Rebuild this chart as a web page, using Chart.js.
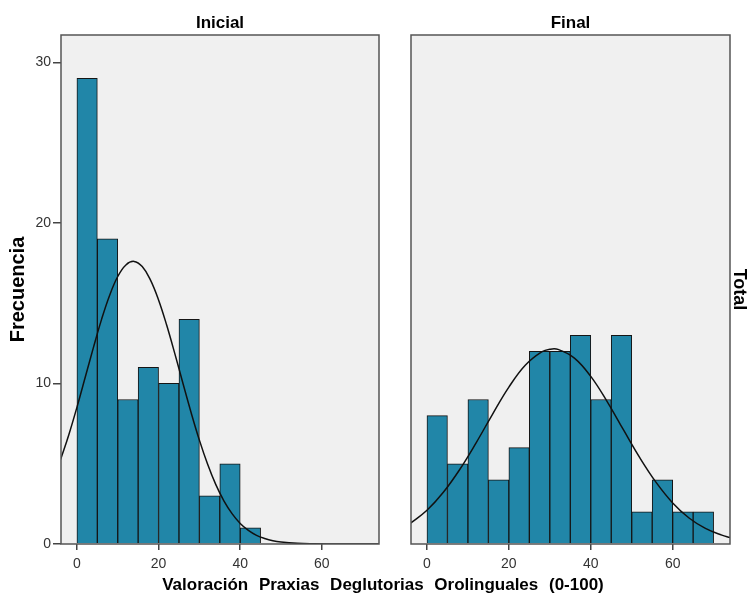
<!DOCTYPE html>
<html>
<head>
<meta charset="utf-8">
<script src="https://cdn.jsdelivr.net/npm/chart.js@4"></script>
<style>
  body { margin: 0; background: #fff; }
  #wrap { position: relative; width: 750px; height: 596px; overflow: hidden; }
  canvas { position: absolute; top: 0; }
  #cIni { left: 0; }
  #cFin { left: 395px; }
  #xTitle {
    position: absolute; left: 8px; width: 750px; top: 575px;
    text-align: center; font: bold 17px "Liberation Sans", Arial, sans-serif;
    line-height: 20px; word-spacing: 6px; color: #000;
  }
</style>
</head>
<body>
<div id="wrap">
  <canvas id="cIni" width="395" height="596"></canvas>
  <canvas id="cFin" width="355" height="596"></canvas>
  <div id="xTitle">Valoración Praxias Deglutorias Orolinguales (0-100)</div>
</div>
<script>
var inicialBins = [2.5, 7.5, 12.5, 17.5, 22.5, 27.5, 32.5, 37.5, 42.5];
var inicialFreq = [29, 19, 9, 11, 10, 14, 3, 5, 1];
var finalBins = [2.5, 7.5, 12.5, 17.5, 22.5, 27.5, 32.5, 37.5, 42.5, 47.5, 52.5, 57.5, 62.5, 67.5];
var finalFreq = [8, 5, 9, 4, 6, 12, 12, 13, 9, 13, 2, 4, 2, 2];

// curva normal, puntos
var inicialCurveX = [-4, -2, 0, 2, 4, 6, 8, 10, 12, 14, 16, 18, 20, 22, 24, 26, 28, 30, 32, 34, 36, 38, 40, 42, 44, 46, 48, 50, 54, 58, 62, 66, 70, 74];
var inicialCurveY = [5.26, 6.79, 8.51, 10.35, 12.2, 13.96, 15.48, 16.66, 17.38, 17.6, 17.28, 16.45, 15.2, 13.62, 11.84, 9.98, 8.16, 6.47, 4.98, 3.71, 2.69, 1.89, 1.28, 0.85, 0.54, 0.34, 0.2, 0.12, 0.04, 0.01, 0, 0, 0, 0];
var finalCurveX = [-4, 0, 4, 8, 12, 16, 20, 24, 28, 30, 32, 36, 40, 44, 48, 52, 56, 60, 64, 68, 72, 74];
var finalCurveY = [1.3, 2.1, 3.22, 4.64, 6.3, 8.08, 9.77, 11.13, 11.96, 12.13, 12.12, 11.58, 10.44, 8.87, 7.1, 5.36, 3.82, 2.56, 1.62, 0.97, 0.55, 0.4];

var xTicks = [0, 20, 40, 60];
var yTicks = [0, 10, 20, 30];
var xMin = -3.9, xMax = 74, yMax = 31.7;

Chart.defaults.font.family = '"Liberation Sans", Arial, sans-serif';
Chart.defaults.color = '#333';

// fondo gris y marco del panel
var panelPlugin = {
  id: 'panel',
  beforeDraw: function (chart) {
    var a = chart.chartArea, ctx = chart.ctx;
    ctx.save();
    ctx.fillStyle = '#f0f0f0';
    ctx.fillRect(a.left, a.top, a.right - a.left, a.bottom - a.top);
    ctx.restore();
  },
  afterDatasetsDraw: function (chart) {
    var a = chart.chartArea, ctx = chart.ctx;
    ctx.save();
    ctx.strokeStyle = '#555';
    ctx.lineWidth = 1.5;
    ctx.strokeRect(a.left, a.top, a.right - a.left, a.bottom - a.top);
    ctx.restore();
  }
};

function pts(xs, ys) {
  return xs.map(function (x, i) { return { x: x, y: ys[i] }; });
}

function makePanel(id, title, bins, freq, cx, cy, first) {
  var scales = {
    x: {
      type: 'linear', min: xMin, max: xMax, offset: false,
      afterBuildTicks: function (s) { s.ticks = xTicks.map(function (v) { return { value: v }; }); },
      afterFit: function (s) { s.height = 52; },
      ticks: { color: '#333', font: { size: 14 }, padding: 6, maxRotation: 0 },
      grid: { offset: false, drawOnChartArea: false, drawTicks: true, tickLength: 6, color: '#444', lineWidth: 1.5 },
      border: { display: false }
    },
    y: {
      type: 'linear', min: 0, max: yMax,
      position: first ? 'left' : 'right',
      afterBuildTicks: function (s) { s.ticks = yTicks.map(function (v) { return { value: v }; }); },
      afterFit: function (s) { s.width = first ? 57 : 20; },
      ticks: { display: first, color: '#333', font: { size: 14 }, padding: 2 },
      grid: { drawOnChartArea: false, drawTicks: first, tickLength: 8, color: '#444', lineWidth: 1.5 },
      border: { display: false },
      title: {
        display: true,
        text: first ? 'Frecuencia' : 'Total',
        color: '#000',
        font: { size: first ? 20 : 18, weight: 'bold' },
        padding: first ? { top: 2, bottom: 0 } : { top: 0, bottom: 0 }
      }
    }
  };

  return new Chart(document.getElementById(id), {
    type: 'bar',
    data: {
      datasets: [
        {
          type: 'line',
          data: pts(cx, cy),
          borderColor: '#111',
          borderWidth: 1.5,
          pointRadius: 0,
          tension: 0.4,
          clip: 0,
          order: 0
        },
        {
          type: 'bar',
          data: pts(bins, freq),
          backgroundColor: '#2186a8',
          borderColor: '#151515',
          borderWidth: 1,
          barPercentage: 1,
          categoryPercentage: 1,
          order: 1
        }
      ]
    },
    options: {
      responsive: false,
      maintainAspectRatio: false,
      animation: false,
      layout: { padding: first ? { left: 4, right: 16, top: 0, bottom: 0 } : { left: 16, right: 0, top: 0, bottom: 0 } },
      scales: scales,
      plugins: {
        legend: { display: false },
        tooltip: { enabled: false },
        title: {
          display: true, text: title, fullSize: false, color: '#000',
          font: { size: 17, weight: 'bold' },
          padding: { top: 13, bottom: 1.6 }
        }
      }
    },
    plugins: [panelPlugin]
  });
}

makePanel('cIni', 'Inicial', inicialBins, inicialFreq, inicialCurveX, inicialCurveY, true);
makePanel('cFin', 'Final', finalBins, finalFreq, finalCurveX, finalCurveY, false);
</script>
</body>
</html>
